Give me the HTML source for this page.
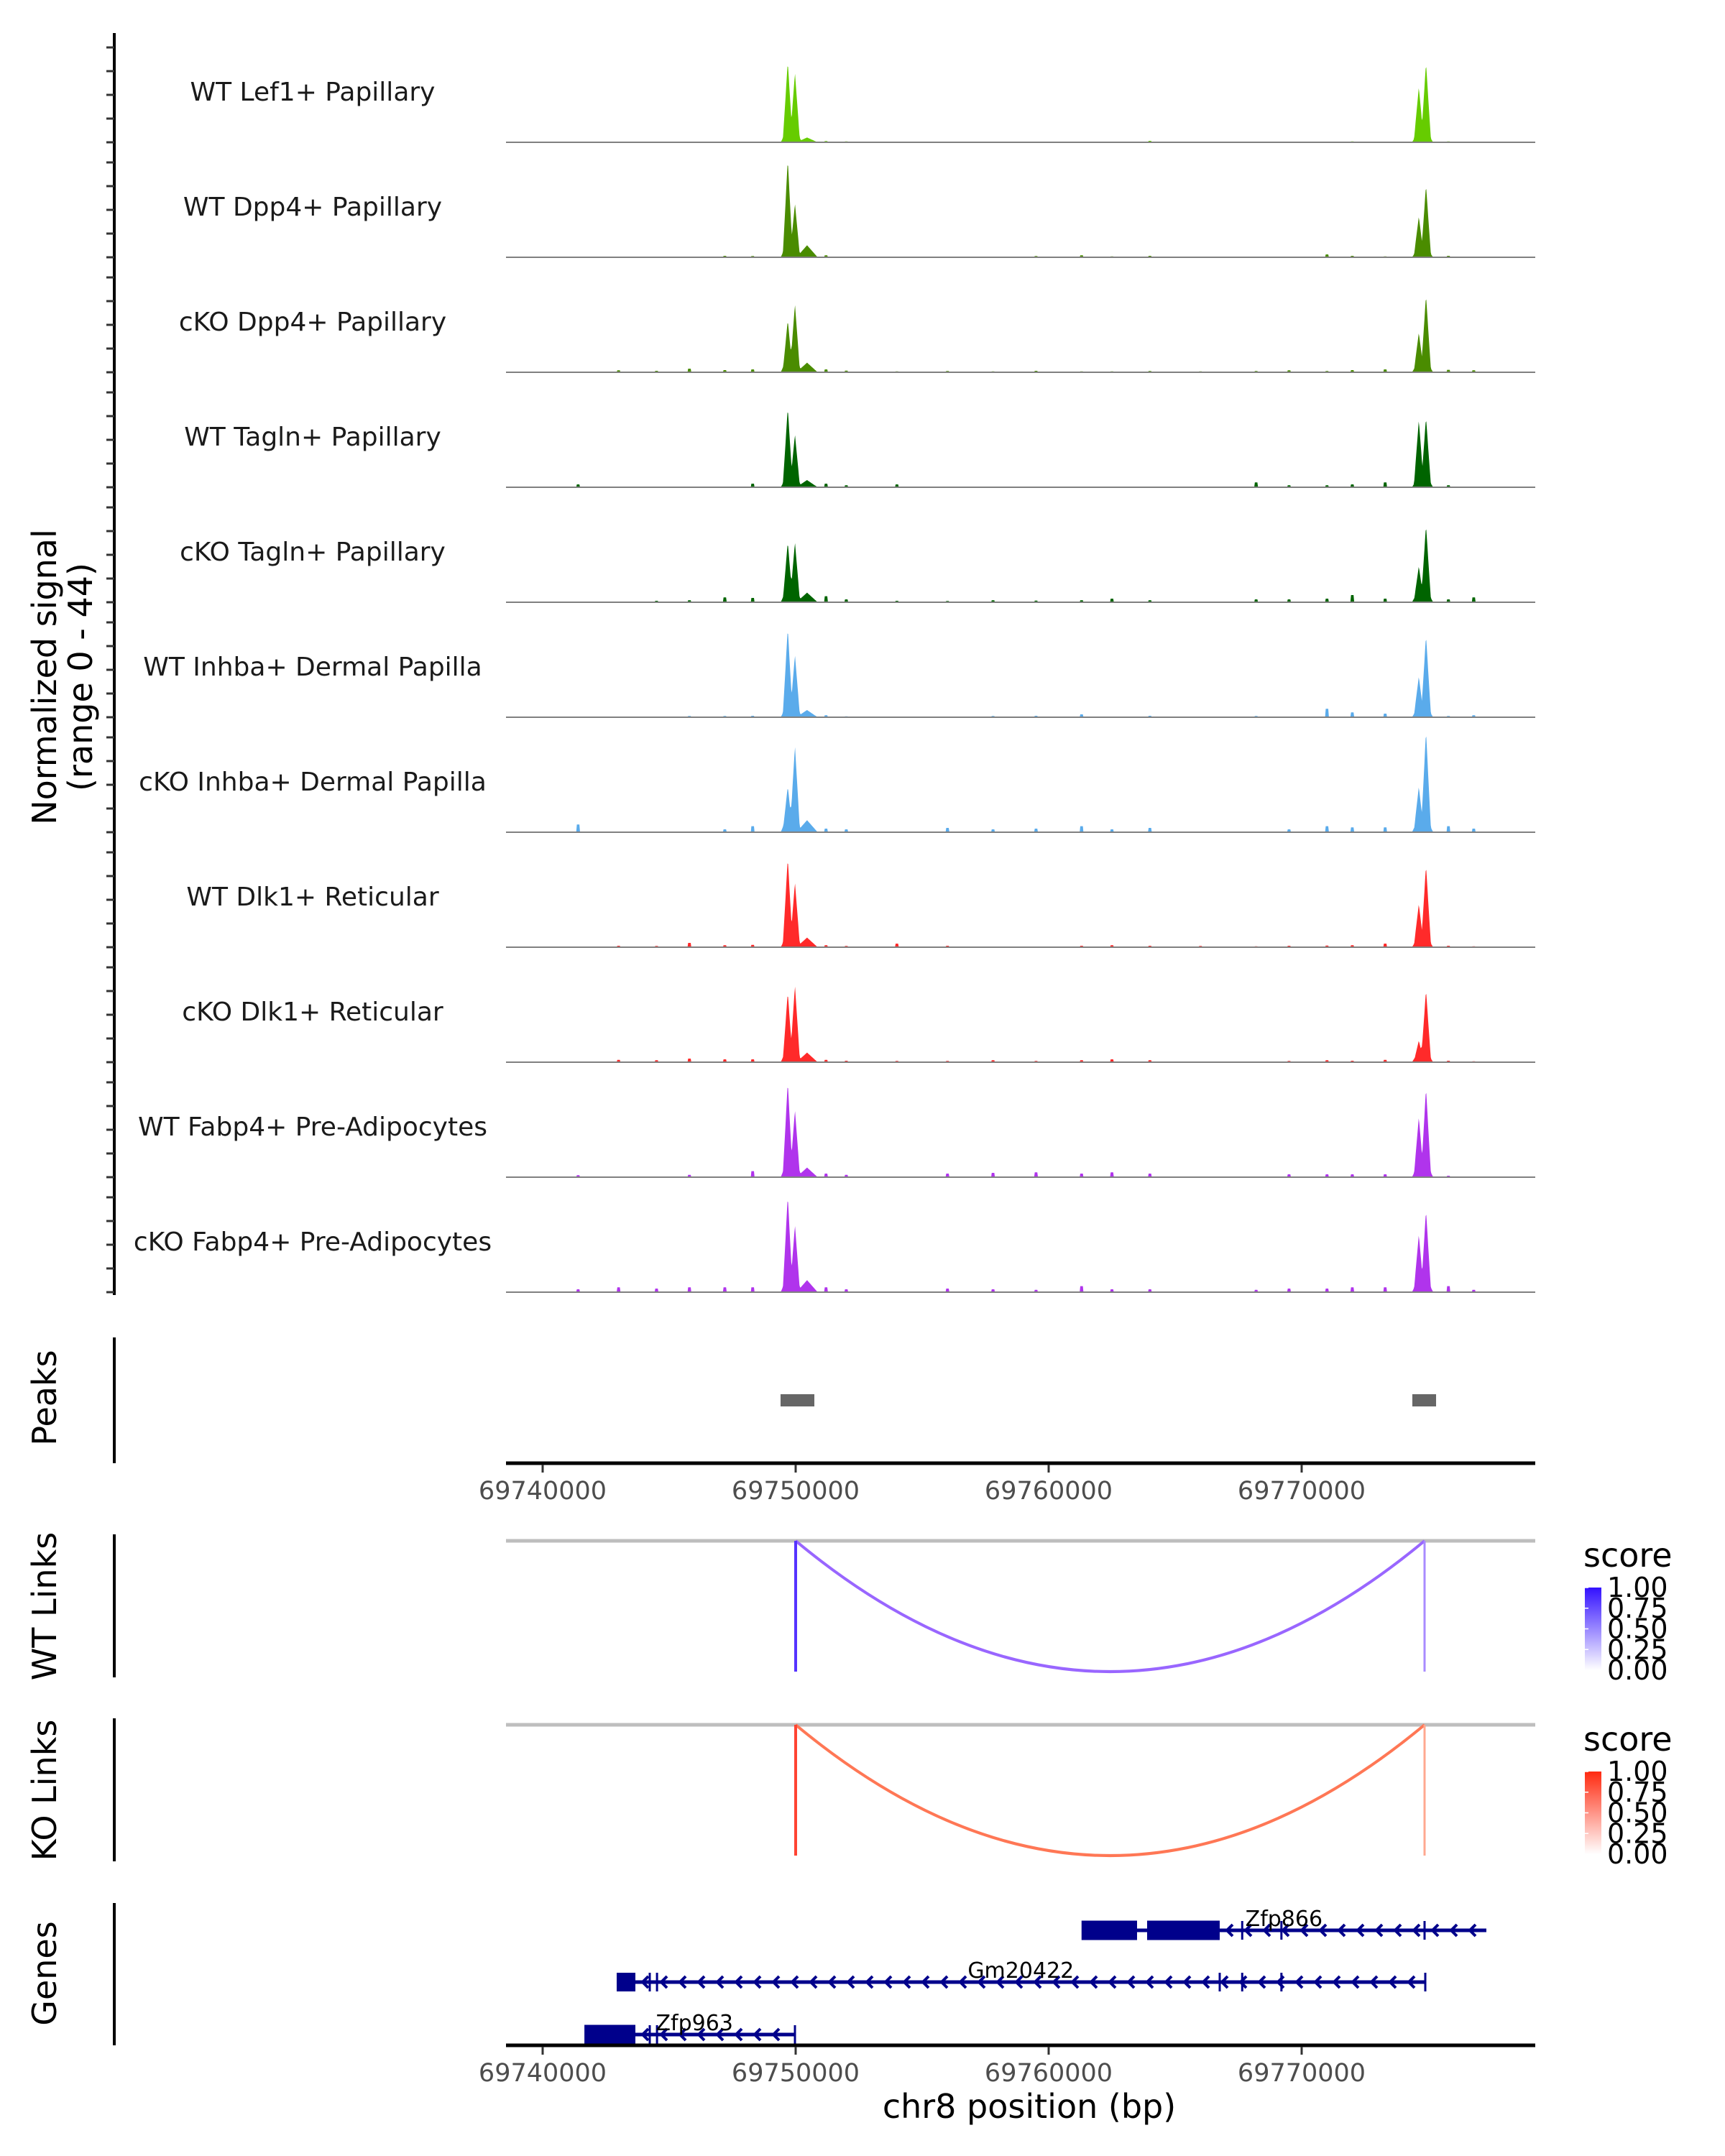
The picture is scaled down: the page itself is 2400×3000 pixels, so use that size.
<!DOCTYPE html>
<html><head><meta charset="utf-8">
<style>
html,body{margin:0;padding:0;background:#fff;}
svg{display:block;font-family:"DejaVu Sans","Liberation Sans",sans-serif;}
</style></head>
<body>
<svg id="chart" width="2400" height="3000" viewBox="0 0 2400 3000" xmlns="http://www.w3.org/2000/svg">
<rect width="2400" height="3000" fill="#fff"/>
<g id="tracks"></g>
<g id="peaks"></g>
<g id="links"></g>
<g id="genes"></g>
<text transform="translate(78,942) rotate(-90)" text-anchor="middle" font-size="46" fill="#000">Normalized signal</text>
<text transform="translate(128,942) rotate(-90)" text-anchor="middle" font-size="46" fill="#000">(range 0 - 44)</text>
<text transform="translate(78,1945) rotate(-90)" text-anchor="middle" font-size="46">Peaks</text>
<text transform="translate(78,2235) rotate(-90)" text-anchor="middle" font-size="46">WT Links</text>
<text transform="translate(78,2491) rotate(-90)" text-anchor="middle" font-size="46">KO Links</text>
<text transform="translate(78,2746) rotate(-90)" text-anchor="middle" font-size="46">Genes</text>
<text x="1432" y="2947" text-anchor="middle" font-size="46">chr8 position (bp)</text>
</svg>
<script>
// ---- data ----
const trackNames = ["WT Lef1+ Papillary","WT Dpp4+ Papillary","cKO Dpp4+ Papillary","WT Tagln+ Papillary","cKO Tagln+ Papillary","WT Inhba+ Dermal Papilla","cKO Inhba+ Dermal Papilla","WT Dlk1+ Reticular","cKO Dlk1+ Reticular","WT Fabp4+ Pre-Adipocytes","cKO Fabp4+ Pre-Adipocytes"];
const trackColors = ["#66cc00","#4a8c00","#4a8c00","#006400","#006400","#5aabeb","#5aabeb","#ff2a2a","#ff2a2a","#b034ec","#b034ec"];
const peakPositions = [69749688, 69749972, 69774631, 69774915];
const peakHeights = [
 [33.5,29,23,33],[40.6,22.4,17,30],[21.6,28.4,16.5,32],[33,22,28,29],[25,25,15,32],
 [37,26,17,34],[19,36,19,42],[37,27,18,34],[29,32,9,30],[39.5,28,25,37],[40,28,24,34]];
const shoulderPositions = [69749830, 69750450, 69774780];
const shoulderHeights = [[9,2,7],[10,5,6],[10,4,7],[8,3,7],[10,4,8],[9,3,7],[11,5,9],[9,4,7],[10,4,7],[11,4,9],[11,5,9]];
const bumpPositions = [69741400,69743000,69744500,69745800,69747200,69748300,69751200,69752000,69754000,69756000,69757800,69759500,69761300,69762500,69764000,69766000,69768200,69769500,69771000,69772000,69773300,69775800,69776800];
const bumpHeights = [
 [0,0,0,0,0,0.3,0.5,0.4,0,0,0,0,0.3,0,0.6,0.3,0.3,0,0,0.4,0.2,0.4,0],
 [0,0,0,0,0.6,0.5,0.8,0.3,0,0,0,0.5,0.8,0.4,0.6,0,0,0,1.2,0.6,0.4,0.6,0.3],
 [0,0.8,0.6,1.5,0.9,1.2,1.2,0.7,0.4,0.5,0.4,0.6,0.4,0.4,0.5,0.4,0.5,0.8,0.5,0.9,1.2,1.0,0.8],
 [1.2,0,0,0,0,1.5,1.5,0.8,1.2,0,0,0,0,0,0,0,2.0,0.8,0.8,1.2,2.0,0.8,0],
 [0,0,0.6,0.8,2,1.8,2.5,1.2,0.6,0.5,0.8,0.7,0.8,1.5,0.8,0,1.2,1.2,1.5,3.0,1.5,1.2,2.0],
 [0,0,0,0.5,0.5,0.6,0.8,0.4,0,0,0.5,0.6,1.2,0,0.6,0,0.5,0,3.5,2.0,1.5,0.5,0.8],
 [3.2,0,0,0,1.2,2.5,1.5,1.2,0,1.8,1.2,1.5,2.5,1.2,1.8,0,0,1.2,2.5,2.0,2.0,2.5,1.5],
 [0,0.6,0.5,1.8,0.8,1.0,0.8,0.5,1.5,0.6,0,0,0.6,0.8,0.6,0.5,0.4,0.6,0.7,0.8,1.5,0.6,0.4],
 [0,1.0,0.8,1.5,1.2,1.2,1.0,0.6,0.5,0.5,0.8,0.5,0.8,1.2,0.8,0,0,0.5,0.8,0.6,1.0,0.6,0.4],
 [0.8,0,0,1.0,0,2.5,1.5,1.0,0,1.5,1.8,2.0,1.5,2.0,1.5,0,0,1.2,1.2,1.2,1.2,0.6,0],
 [1.2,2.0,1.5,2.0,2.0,2.0,2.0,1.2,0,1.5,1.2,1.0,2.5,1.2,1.2,0,1.0,1.5,1.5,2.0,2.0,2.5,1.0]];
const xTicks = [69740000, 69750000, 69760000, 69770000];
const peakRegions = [[69749403,69750739],[69774375,69775313]];
const linkStart = 69750000, linkEnd = 69774858;
const wtScore = 0.62, koScore = 0.55;
const legendTicks = ["1.00","0.75","0.50","0.25","0.00"];
const geneNames = ["Zfp866","Gm20422","Zfp963"];
const geneStarts = [69761392, 69742926, 69741705];
const geneEnds = [69777300, 69774886, 69749972];
const geneExons = [[[69761300,69763494],[69763892,69766761]],[[69742926,69743665]],[[69741650,69743665]]];
const geneMarks = [[69767650,69769200,69774858],[69744233,69744520,69766761,69767650,69769200,69774886],[69744233,69744520,69749972]];
const geneLabelPos = [69769300, 69758900, 69746000];

// ---- scales ----
const X0 = 755, PXBP = 0.0352, PLOT_L = 704, PLOT_R = 2136;
function x(bp){ return X0 + (bp - 69740000) * PXBP; }
const VALPX = 3.35;
const TRACK_STEP = 160;
const NS = "http://www.w3.org/2000/svg";
function mk(tag, attrs, parent){ const e = document.createElementNS(NS, tag); for (const k in attrs) e.setAttribute(k, attrs[k]); parent.appendChild(e); return e; }

// ---- coverage tracks ----
const tg = document.getElementById('tracks');
const axis = mk('line', {x1:159,y1:46,x2:159,y2:198 + TRACK_STEP*10 + 4,stroke:'#000','stroke-width':4}, tg);


trackNames.forEach((name, i) => {
  const base = 198 + TRACK_STEP * i;
  for (let k = 0; k < 5; k++) {
    const t = mk('line', {x1:148,x2:159,y1:base-33*k,y2:base-33*k,stroke:'#333','stroke-width':3}, tg);
    
    
  }
  const lab = mk('text', {x:435,y:base-58,'text-anchor':'middle','font-size':36,fill:'#1a1a1a'}, tg);
  lab.textContent = name;
  
  
  const step = 25;
  let d = 'M' + PLOT_L + ',' + base;
  for (let bp = 69738551; bp <= 69779233; bp += step) {
    let v = 0;
    peakPositions.forEach((p, j) => { v = Math.max(v, peakHeights[i][j] * Math.max(0, 1 - Math.abs(bp - p) / 200)); });
    shoulderPositions.forEach((p, j) => { v = Math.max(v, shoulderHeights[i][j] * Math.max(0, 1 - Math.abs(bp - p) / 420)); });
    bumpPositions.forEach((p, j) => { v = Math.max(v, bumpHeights[i][j] * (Math.abs(bp - p) <= 60 ? 1 : 0)); });
    d += 'L' + x(bp).toFixed(1) + ',' + (base - v * VALPX).toFixed(1);
  }
  d += 'L' + PLOT_R + ',' + base + 'Z';
  const path = mk('path', {d:d, fill:trackColors[i]}, tg);
  
  
  const bl = mk('line', {x1:PLOT_L,x2:PLOT_R,y1:base,y2:base,stroke:'#808080','stroke-width':2}, tg);
  
  
});

// ---- x axis helper ----
function xAxis(g, y) {
  const l = mk('line', {x1:PLOT_L,x2:PLOT_R,y1:y,y2:y,stroke:'#000','stroke-width':5}, g);
  
  
  xTicks.forEach(t => {
    const tk = mk('line', {x1:x(t),x2:x(t),y1:y+2,y2:y+13,stroke:'#333','stroke-width':3}, g);
    
    
    const tl = mk('text', {x:x(t),y:y+50,'text-anchor':'middle','font-size':35,fill:'#4d4d4d'}, g);
    tl.textContent = t;
    
    
  });
}

// ---- peaks ----
const pg = document.getElementById('peaks');
const pax = mk('line', {x1:159,x2:159,y1:1861,y2:2036,stroke:'#000','stroke-width':4}, pg);


peakRegions.forEach(r => {
  const pr = mk('rect', {x:x(r[0]),y:1940,width:x(r[1])-x(r[0]),height:17,fill:'#666'}, pg);
  
  
});
xAxis(pg, 2036);

// ---- links ----
const lg = document.getElementById('links');
const grads = mk('defs', {}, lg);
function linkPanel(top, bottom, color, score, lineColL, lineColR, topCol, gid, axTop, axBot) {
  const ax = mk('line', {x1:159,x2:159,y1:axTop,y2:axBot,stroke:'#000','stroke-width':4}, lg);
  
  
  const gl = mk('line', {x1:PLOT_L,x2:PLOT_R,y1:top,y2:top,stroke:'#bebebe','stroke-width':5}, lg);
  
  
  const x1 = x(linkStart), x2 = x(linkEnd), xm = (x1 + x2) / 2;
  const arc = mk('path', {d:`M${x1},${top} Q${xm},${2*bottom-top} ${x2},${top}`, fill:'none', stroke:color, 'stroke-width':4}, lg);
  
  
  const vl = mk('line', {x1:x1,x2:x1,y1:top,y2:bottom,stroke:lineColL,'stroke-width':4}, lg);
  
  
  const vr = mk('line', {x1:x2,x2:x2,y1:top,y2:bottom,stroke:lineColR,'stroke-width':3}, lg);
  
  
  const gr = mk('linearGradient', {id:gid,x1:0,y1:0,x2:0,y2:1}, grads);
  mk('stop', {offset:0,'stop-color':topCol}, gr);
  mk('stop', {offset:1,'stop-color':'#ffffff'}, gr);
  const st = mk('text', {x:2203,y:top+36,'font-size':46,fill:'#000'}, lg);
  st.textContent = 'score';
  
  
  const by = top + 65;
  const bar = mk('rect', {x:2205,y:by,width:23,height:115,fill:`url(#${gid})`}, lg);
  
  
  legendTicks.forEach((t, k) => {
    const yy = by + k * 115 / 4;
    const tk = mk('line', {x1:2205,x2:2210,y1:yy,y2:yy,stroke:'#fff','stroke-width':1.5}, lg);
    
    
    const tl = mk('text', {x:2236,y:yy+13,'font-size':38,fill:'#000'}, lg);
    tl.textContent = t;
    
    
  });
}
linkPanel(2144, 2326, '#9966ff', wtScore, '#5533ff', '#a88bff', '#3311ff', 'gwt', 2135, 2334);
linkPanel(2400, 2582, '#ff7755', koScore, '#ff4433', '#ffa890', '#ff2a10', 'gko', 2391, 2590);

// ---- genes ----
const gg = document.getElementById('genes');
const gax = mk('line', {x1:159,x2:159,y1:2648,y2:2846,stroke:'#000','stroke-width':4}, gg);


const geneRowY = [2686, 2758, 2831];
const GC = '#00008b';
geneNames.forEach((name, i) => {
  const y = geneRowY[i];
  const g = mk('g', {}, gg);
  
  
  const xs = x(geneStarts[i]), xe = x(geneEnds[i]);
  mk('line', {x1:xs,x2:xe,y1:y,y2:y,stroke:GC,'stroke-width':5}, g);
  geneExons[i].forEach(ex => {
    const h = i === 1 ? 26 : 27;
    mk('rect', {x:x(ex[0]),y:y-h/2,width:x(ex[1])-x(ex[0]),height:h,fill:GC}, g);
  });
  geneMarks[i].forEach(m => {
    mk('line', {x1:x(m),x2:x(m),y1:y-13,y2:y+13,stroke:GC,'stroke-width':3}, g);
  });
  const exEnd = x(geneExons[i][geneExons[i].length-1][1]);
  for (let cx = exEnd + 14; cx < xe - 4; cx += 26) {
    mk('polyline', {points:`${cx+4},${y-8} ${cx-4},${y} ${cx+4},${y+8}`, fill:'none', stroke:GC, 'stroke-width':4}, g);
  }
  const lab = mk('text', {x:x(geneLabelPos[i]),y:y-6,'text-anchor':'middle','font-size':30,fill:'#000'}, gg);
  lab.textContent = name;
  
  
});
xAxis(gg, 2846);
</script>
</body></html>
